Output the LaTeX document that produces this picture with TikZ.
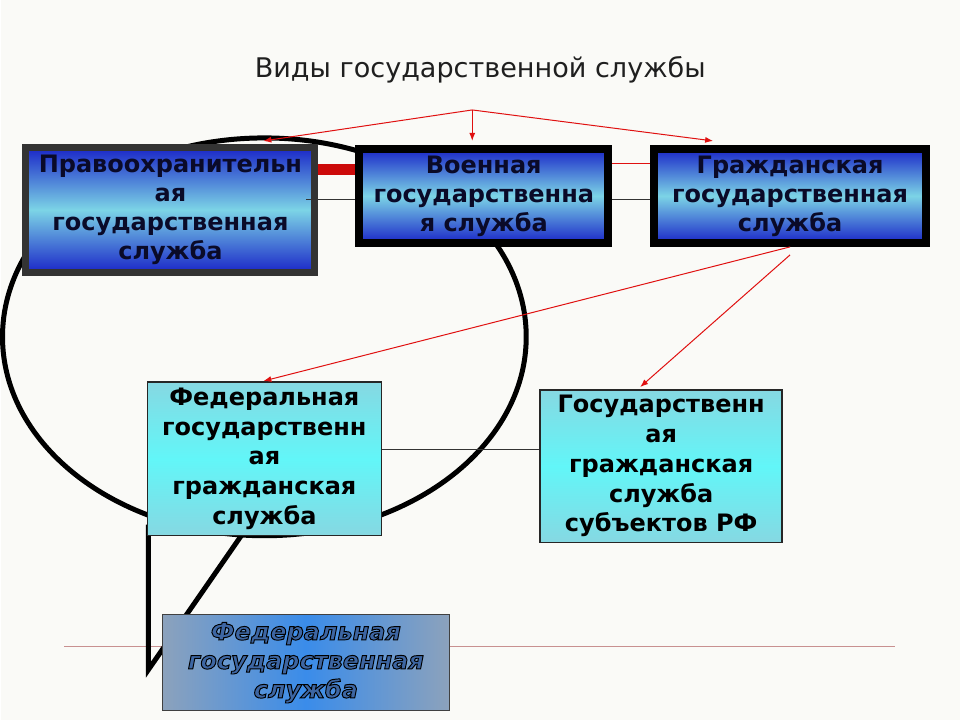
\documentclass[tikz,border=0pt]{standalone}
\usepackage{fontspec}
\setmainfont{DejaVu Sans}
\newfontfamily\fedfont{DejaVu Sans}[FakeBold=4]
\usepackage{tikz}
\usetikzlibrary{arrows.meta, calc}
\definecolor{paperW}{HTML}{FAFAF7}
\definecolor{deepB}{HTML}{1A26C8}
\definecolor{paleC}{HTML}{7CD4E6}
\definecolor{aquaE}{HTML}{86D8E2}
\definecolor{aquaM}{HTML}{62F6F8}
\definecolor{arrR}{HTML}{E01010}
\definecolor{barR}{HTML}{CC0A0A}
\definecolor{ruleR}{HTML}{C89090}
\definecolor{slateF}{HTML}{8CA2BC}
\definecolor{brightF}{HTML}{3A8CEA}
\definecolor{inkN}{HTML}{0A0A28}
\definecolor{frameG}{HTML}{333333}
\newdimen\pxu \pxu=0.75pt

\begin{document}
\begin{tikzpicture}[x=0.75pt, y=-0.75pt,
  typebox/.style={draw=black, line width=8\pxu, top color=deepB, bottom color=deepB,
    middle color=paleC, text=inkN, align=center, inner sep=0pt,
    font=\bfseries\fontsize{18}{21.75}\selectfont},
  subbox/.style={draw=black!85, line width=1.5\pxu, top color=aquaE, bottom color=aquaE,
    middle color=aquaM, text=black, align=center, inner sep=0pt,
    font=\bfseries\fontsize{18}{22.3}\selectfont},
  fedbox/.style={draw=black!75, line width=1.5\pxu, left color=slateF, right color=slateF,
    middle color=brightF, align=center, inner sep=0pt,
    font=\fedfont\bfseries\itshape\fontsize{18}{21.75}\selectfont},
  redarrow/.style={arrR, line width=1\pxu, -{Latex[length=6pt, width=4.5pt]}},
  thinlink/.style={black!80, line width=1\pxu}]
  % page
  \fill[paperW] (0,0) rectangle (960,720);
  \node[font=\fontsize{20.3}{25}\selectfont, text=black!88] (title) at (480,70)
     {Виды государственной службы};
  % slide rule under the bottom box
  \draw[ruleR, line width=1\pxu] (64,647) -- (895,647);
  % callout outline
  \draw[line width=5\pxu] (264,337) ellipse [x radius=262\pxu, y radius=199\pxu];
  \draw[line width=5\pxu] (148,525) -- (148,670) -- (245,530);
  % kinds of service
  \node[typebox, draw=frameG, line width=7\pxu, minimum width=289\pxu,
     minimum height=125\pxu] (law) at (170,210)
     {Правоохранительн\\ая\\государственная\\служба};
  \node[typebox, minimum width=249\pxu, minimum height=94\pxu] (mil) at (483.5,196)
     {Военная\\государственна\\я служба};
  \node[typebox, minimum width=272\pxu, minimum height=94\pxu] (civ) at (790,196)
     {Гражданская\\государственная\\служба};
  % civil service levels
  \node[subbox, minimum width=234\pxu, minimum height=154\pxu] (fed) at (264,459)
     {Федеральная\\государственн\\ая\\гражданская\\служба};
  \node[subbox, minimum width=242\pxu, minimum height=153\pxu] (reg) at (661,466.5)
     {Государственн\\ая\\гражданская\\служба\\субъектов РФ};
  \node[fedbox, minimum width=287\pxu, minimum height=96\pxu] (gen) at (305.5,663)
     {\special{pdf:bcolor [0.24 0.40 0.64] [0 0 0]}Федеральная\\государственная\\служба\special{pdf:ecolor}};
  % links between boxes
  \draw[barR, line width=11\pxu] ($(law.east)+(0,-40)$) -- ($(mil.west)+(0,-26)$);
  \draw[thinlink] ($(law.east)+(-12,-10)$) -- ($(mil.west)+(0,4)$);
  \draw[arrR, line width=1\pxu] ($(mil.east)+(0,-32)$) -- ($(civ.west)+(0,-32)$);
  \draw[thinlink] ($(mil.east)+(0,4)$) -- ($(civ.west)+(0,4)$);
  \draw[thinlink] ($(fed.east)+(0,-9)$) -- ($(reg.west)+(0,-16.5)$);
  % red arrows
  \coordinate (fork) at (472,110);
  \draw[redarrow] (fork) -- ($(law.north)+(93,-3)$);
  \draw[redarrow] (fork) -- ($(mil.north)+(-11.5,-4)$);
  \draw[redarrow] (fork) -- ($(civ.north)+(-77,-4)$);
  \draw[redarrow] (civ.south) -- ($(fed.north)+(-1,0)$);
  \draw[redarrow] ($(civ.south)+(0,8)$) -- ($(reg.north)+(-21,-2)$);
\end{tikzpicture}
\end{document}
